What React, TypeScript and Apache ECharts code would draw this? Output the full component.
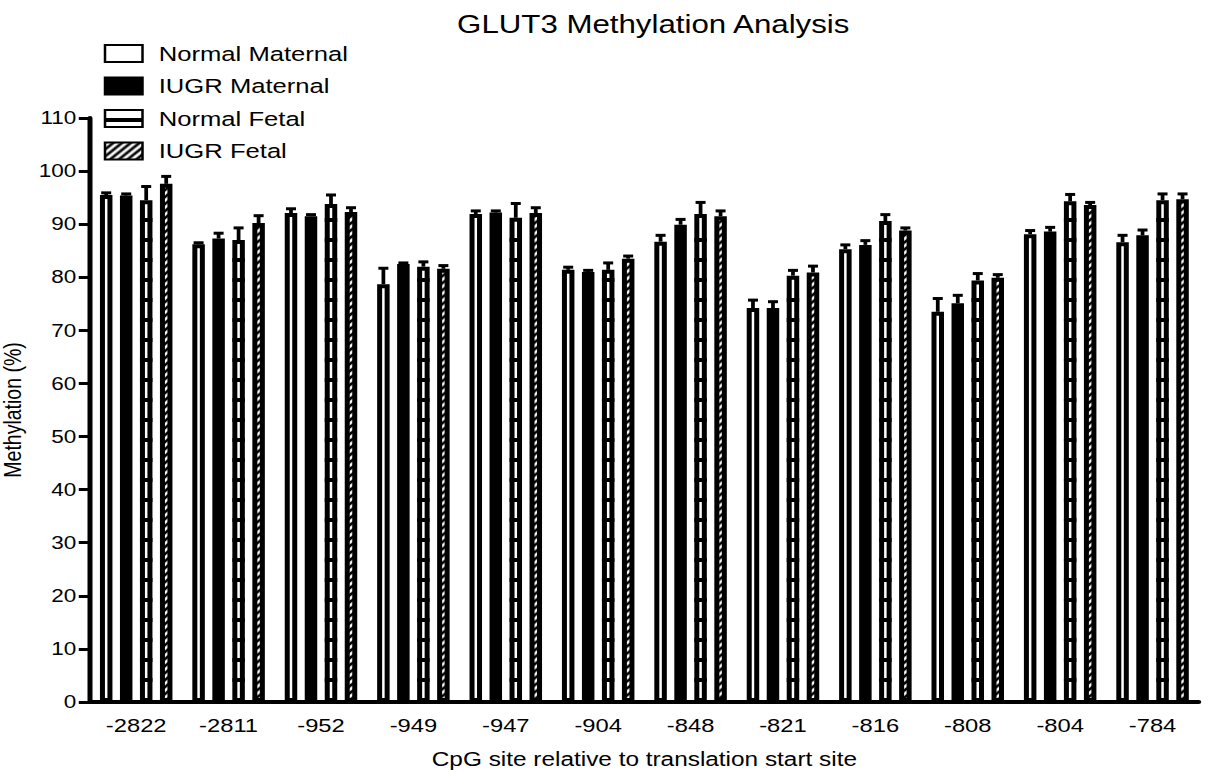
import React, { useEffect, useRef } from "react";
import * as echarts from "echarts";

const categories = ["-2822", "-2811", "-952", "-949", "-947", "-904", "-848", "-821", "-816", "-808", "-804", "-784"];
const seriesNames = ["Normal Maternal", "IUGR Maternal", "Normal Fetal", "IUGR Fetal"];
const normalMaternal = [95.5, 86.2, 92.1, 78.7, 91.9, 81.4, 86.7, 74.2, 85.3, 73.5, 88.1, 86.6];
const normalMaternalErr = [0.4, 0.3, 0.8, 3.0, 0.6, 0.5, 1.2, 1.5, 0.8, 2.5, 0.7, 1.3];
const iugrMaternal = [95.4, 87.3, 91.5, 82.5, 92.2, 81.0, 89.9, 74.2, 86.1, 75.1, 88.6, 87.9];
const iugrMaternalErr = [0.3, 1.0, 0.3, 0.2, 0.3, 0.3, 1.0, 1.2, 0.8, 1.5, 0.8, 1.0];
const normalFetal = [94.5, 87.0, 93.8, 82.0, 91.2, 81.4, 91.9, 80.3, 90.6, 79.4, 94.3, 94.5];
const normalFetalErr = [2.6, 2.3, 1.7, 0.9, 2.7, 1.3, 2.2, 1.0, 1.2, 1.3, 1.3, 1.2];
const iugrFetal = [97.6, 90.2, 92.3, 81.6, 92.1, 83.5, 91.5, 80.9, 88.8, 79.9, 93.6, 94.7];
const iugrFetalErr = [1.4, 1.4, 0.8, 0.6, 1.0, 0.5, 1.0, 1.2, 0.5, 0.6, 0.5, 1.0];
const yTicks = { min: 0, max: 110, interval: 10 };

const FONT = "Liberation Sans, Arial, Helvetica, sans-serif";
// the reference image is horizontally stretched; draw narrower and stretch
const STRETCH = 1.25;
const PAGE_W = 1210;
const PAGE_H = 773;
const INNER_W = PAGE_W / STRETCH;
const BAR_W = 10;
const BAR_GAP = 0.6;
const RUNG_STEP = 20;
const RUNG_H = 4;

function ladderPattern(): HTMLCanvasElement {
  const c = document.createElement("canvas");
  c.width = 4;
  c.height = 20;
  const ctx = c.getContext("2d")!;
  ctx.fillStyle = "#ffffff";
  ctx.fillRect(0, 0, 4, 20);
  ctx.fillStyle = "#000000";
  ctx.fillRect(0, 8, 4, 4);
  return c;
}

function hatchPattern(): HTMLCanvasElement {
  const s = 7;
  const c = document.createElement("canvas");
  c.width = s;
  c.height = s;
  const ctx = c.getContext("2d")!;
  ctx.fillStyle = "#ffffff";
  ctx.fillRect(0, 0, s, s);
  ctx.strokeStyle = "#000000";
  ctx.lineWidth = 2.4;
  ctx.beginPath();
  ctx.moveTo(-1, s + 1);
  ctx.lineTo(s + 1, -1);
  ctx.moveTo(-1, 1);
  ctx.lineTo(1, -1);
  ctx.moveTo(s - 1, s + 1);
  ctx.lineTo(s + 1, s - 1);
  ctx.stroke();
  return c;
}

export default function App() {
  const ref = useRef<HTMLDivElement>(null);
  useEffect(() => {
    if (!ref.current) return;
    const chart = echarts.init(ref.current, null, { renderer: "svg" });
    const values = [normalMaternal, iugrMaternal, normalFetal, iugrFetal];
    const errs = [normalMaternalErr, iugrMaternalErr, normalFetalErr, iugrFetalErr];
    const ladder = { image: ladderPattern(), repeat: "repeat" };
    const hatch = { image: hatchPattern(), repeat: "repeat" };
    const styles: any[] = [
      { color: "#ffffff", borderColor: "#000", borderWidth: 4 },
      { color: "#000000", borderColor: "#000", borderWidth: 4 },
      { color: "#ffffff", borderColor: "#000", borderWidth: 4 },
      { color: hatch, borderColor: "#000", borderWidth: 4 },
    ];
    const step = BAR_W * (1 + BAR_GAP);
    const barSeries = values.map((vals, i) => ({
      name: seriesNames[i],
      type: "bar",
      data: vals,
      barWidth: BAR_W,
      barGap: BAR_GAP * 100 + "%",
      itemStyle: styles[i],
      z: 2,
    }));
    // rungs inside the Normal Fetal bars
    const rungSeries = {
      name: "Normal Fetal rungs",
      type: "custom",
      z: 10,
      data: normalFetal.map((v, j) => [j, v]),
      renderItem: (params: any, api: any) => {
        const base = api.coord([api.value(0), 0]);
        const top = api.coord([api.value(0), api.value(1)]);
        const x = base[0] + 0.5 * step;
        const children: any[] = [];
        let y = base[1] - RUNG_STEP;
        while (y - RUNG_H > top[1] + 6) {
          children.push({
            type: "rect",
            shape: { x: x - BAR_W / 2, y: y - RUNG_H, width: BAR_W, height: RUNG_H },
            style: { fill: "#000000" },
          });
          y -= RUNG_STEP;
        }
        return { type: "group", children };
      },
    };
    const errSeries = values.map((vals, i) => ({
      name: seriesNames[i] + " err",
      type: "custom",
      z: 3,
      data: vals.map((v, j) => [j, v, errs[i][j]]),
      renderItem: (params: any, api: any) => {
        const cat = api.value(0);
        const v = api.value(1);
        const e = api.value(2);
        const base = api.coord([cat, v]);
        const top = api.coord([cat, v + e]);
        const x = base[0] + (i - 1.5) * step;
        return {
          type: "group",
          children: [
            { type: "line", shape: { x1: x, y1: base[1], x2: x, y2: top[1] }, style: { stroke: "#000", lineWidth: 3 } },
            { type: "line", shape: { x1: x - 4, y1: top[1], x2: x + 4, y2: top[1] }, style: { stroke: "#000", lineWidth: 3 } },
          ],
        };
      },
    }));
    chart.setOption({
      animation: false,
      backgroundColor: "#ffffff",
      title: {
        text: "GLUT3 Methylation Analysis",
        left: 647 / STRETCH,
        top: 7,
        textAlign: "center",
        textStyle: { fontFamily: FONT, fontSize: 25, fontWeight: "normal", color: "#000" },
      },
      legend: {
        data: [
          { name: seriesNames[0] },
          { name: seriesNames[1] },
          { name: seriesNames[2], itemStyle: { color: ladder } },
          { name: seriesNames[3] },
        ],
        orient: "vertical",
        icon: "rect",
        left: 78,
        top: 38,
        itemWidth: 30,
        itemHeight: 17,
        itemGap: 11.5,
        selectedMode: false,
        textStyle: { fontFamily: FONT, fontSize: 20.5, color: "#000", padding: [0, 0, 0, 8] },
      },
      grid: { left: 72, right: 9, top: 118, bottom: 71, containLabel: false, outerBoundsMode: "none" },
      xAxis: {
        type: "category",
        data: categories,
        axisLine: { lineStyle: { color: "#000", width: 4 } },
        axisTick: { alignWithLabel: true, length: 9, lineStyle: { color: "#000", width: 4 } },
        axisLabel: { fontFamily: FONT, fontSize: 19, color: "#000", margin: 14 },
        name: "CpG site relative to translation start site",
        nameLocation: "middle",
        nameGap: 47,
        nameTextStyle: { fontFamily: FONT, fontSize: 19.5, color: "#000" },
      },
      yAxis: {
        type: "value",
        min: yTicks.min,
        max: yTicks.max,
        interval: yTicks.interval,
        splitLine: { show: false },
        axisLine: { show: true, lineStyle: { color: "#000", width: 4 } },
        axisTick: { show: true, length: 9, lineStyle: { color: "#000", width: 3 } },
        axisLabel: { fontFamily: FONT, fontSize: 18, color: "#000", margin: 11 },
        name: "Methylation (%)",
        nameLocation: "middle",
        nameGap: 37,
        nameTextStyle: { fontFamily: FONT, fontSize: 19.5, color: "#000" },
      },
      series: [...barSeries, rungSeries, ...errSeries],
    });
    return () => chart.dispose();
  }, []);
  return (
    <div
      ref={ref}
      style={{
        position: "absolute",
        left: 0,
        top: 0,
        width: INNER_W,
        height: PAGE_H,
        transform: `scaleX(${STRETCH})`,
        transformOrigin: "0 0",
      }}
    />
  );
}
